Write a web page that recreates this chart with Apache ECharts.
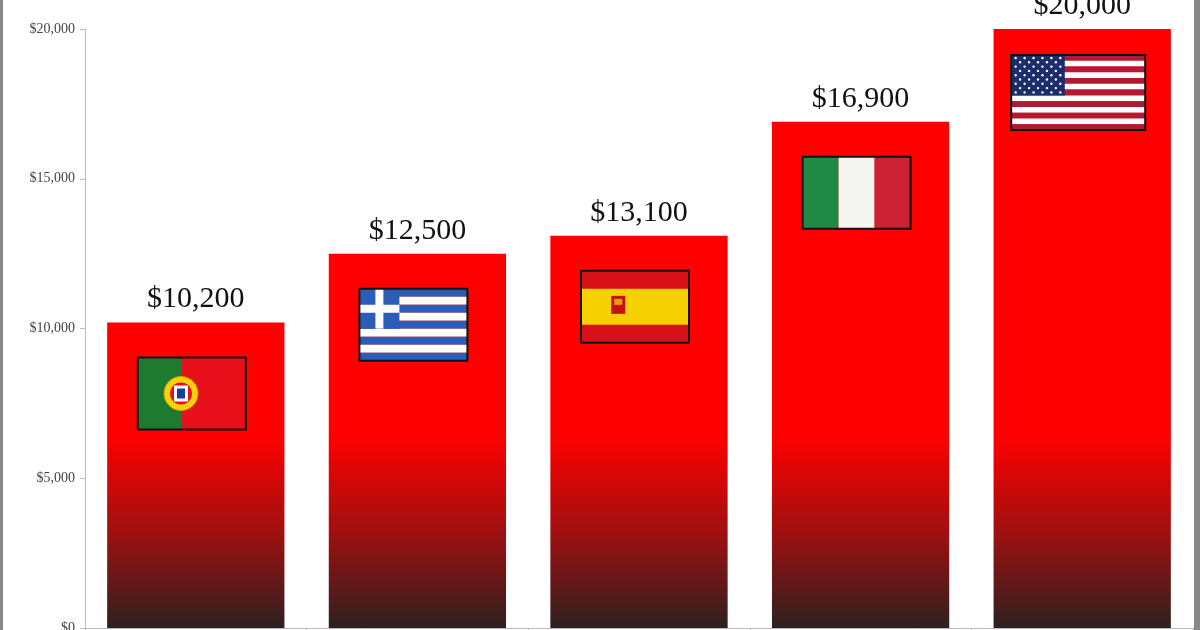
<!DOCTYPE html>
<html><head><meta charset="utf-8">
<script src="https://cdn.jsdelivr.net/npm/echarts@6/dist/echarts.min.js"></script>
<style>html,body{margin:0;padding:0;background:#fff}#c{width:1200px;height:630px}</style>
</head><body><div id="c"></div>
<script>
const countries = ['Portugal', 'Greece', 'Spain', 'Italy', 'USA'];
const values = [10200, 12500, 13100, 16900, 20000];
const flagKinds = ['pt', 'gr', 'es', 'it', 'us'];

const FW = 108, FH = 72, FTOP = 35, FDX = -4;
function flag(kind, x, y, w, h) {
  const c = [];
  const R = (x0, y0, w0, h0, fill) => c.push({type: 'rect', shape: {x: x0, y: y0, width: w0, height: h0}, style: {fill}});
  if (kind === 'pt') {
    R(x, y, w * 0.4, h, '#1e7a2e'); R(x + w * 0.4, y, w * 0.6, h, '#e8101a');
    c.push({type: 'circle', shape: {cx: x + w * 0.4, cy: y + h / 2, r: 17}, style: {fill: '#f5d20a', stroke: '#c9a000'}});
    c.push({type: 'circle', shape: {cx: x + w * 0.4, cy: y + h / 2, r: 11}, style: {fill: '#e8101a'}});
    R(x + w * 0.4 - 7, y + h / 2 - 8, 14, 16, '#fff');
    R(x + w * 0.4 - 4, y + h / 2 - 5, 8, 10, '#1a3a9c');
  } else if (kind === 'gr') {
    const s = h / 9;
    for (let i = 0; i < 9; i++) R(x, y + i * s, w, s, i % 2 ? '#fff' : '#2a5cb8');
    R(x, y, s * 5, s * 5, '#2a5cb8');
    R(x, y + s * 2, s * 5, s, '#fff'); R(x + s * 2, y, s, s * 5, '#fff');
  } else if (kind === 'es') {
    R(x, y, w, h, '#d8101a'); R(x, y + h / 4, w, h / 2, '#f7d000');
    R(x + w * 0.28, y + h * 0.35, 14, 18, '#c8101a');
    R(x + w * 0.28 + 3, y + h * 0.35 + 3, 8, 6, '#e0a000');
  } else if (kind === 'it') {
    R(x, y, w / 3, h, '#1f8a45'); R(x + w / 3, y, w / 3, h, '#f4f4f0'); R(x + 2 * w / 3, y, w / 3, h, '#cc2233');
  } else if (kind === 'us') {
    const s = h / 13;
    for (let i = 0; i < 13; i++) R(x, y + i * s, w, s, i % 2 ? '#fff' : '#b01a33');
    const cw = w * 0.4, ch = s * 7;
    R(x, y, cw, ch, '#1b2d6b');
    for (let r = 0; r < 9; r++) {
      const n = r % 2 ? 5 : 6;
      for (let k = 0; k < n; k++) {
        const cx = x + (r % 2 ? cw / 6 : cw / 12) + k * cw / 6;
        c.push({type: 'circle', shape: {cx, cy: y + ch * (r + 0.7) / 9.4, r: 1.2}, style: {fill: '#fff'}});
      }
    }
  }
  c.push({type: 'rect', shape: {x, y, width: w, height: h}, style: {fill: 'none', stroke: '#111', lineWidth: 2}});
  return c;
}

const chart = echarts.init(document.getElementById('c'));
const serif = '"Liberation Serif", "Times New Roman", serif';
chart.setOption({
  animation: false,
  backgroundColor: '#fff',
  grid: {left: 85, right: 7, top: 29, height: 599, containLabel: false, outerBoundsMode: 'none'},
  graphic: [
    {type: 'rect', shape: {x: 0, y: 0, width: 3, height: 630}, style: {fill: '#888'}},
    {type: 'rect', shape: {x: 1194, y: 0, width: 6, height: 630}, style: {fill: '#888'}}
  ],
  xAxis: {type: 'category', data: countries, axisLabel: {show: false},
    axisLine: {lineStyle: {color: '#bbb'}}, axisTick: {show: true, lineStyle: {color: '#bbb'}}},
  yAxis: {type: 'value', min: 0, max: 20000, interval: 5000, splitLine: {show: false},
    axisLine: {show: true, lineStyle: {color: '#bbb'}}, axisTick: {show: true, length: 5, lineStyle: {color: '#bbb'}},
    axisLabel: {fontFamily: serif, fontSize: 14, color: '#444', margin: 10,
      formatter: v => '$' + v.toLocaleString('en-US')}},
  series: [
    {type: 'bar', data: values, barWidth: '80%',
      itemStyle: {color: {type: 'linear', global: true, x: 0, y: 435, x2: 0, y2: 628,
        colorStops: [{offset: 0, color: '#ff0000'}, {offset: 0.5, color: '#a01010'}, {offset: 1, color: '#2e2020'}]}},
      label: {show: true, position: 'top', distance: 8, fontFamily: serif, fontSize: 30, color: '#111',
        formatter: p => '$' + p.value.toLocaleString('en-US')}},
    {type: 'custom', data: values.map((v, i) => [i, v]), z: 5,
      renderItem: (params, api) => {
        const i = api.value(0);
        const p = api.coord([i, api.value(1)]);
        const big = flagKinds[i] === 'us';
        const w = big ? 134 : FW, h = big ? 75 : FH;
        return {type: 'group', children: flag(flagKinds[i], p[0] + FDX - w / 2, p[1] + (big ? 26 : FTOP), w, h)};
      }}
  ]
});
</script></body></html>
